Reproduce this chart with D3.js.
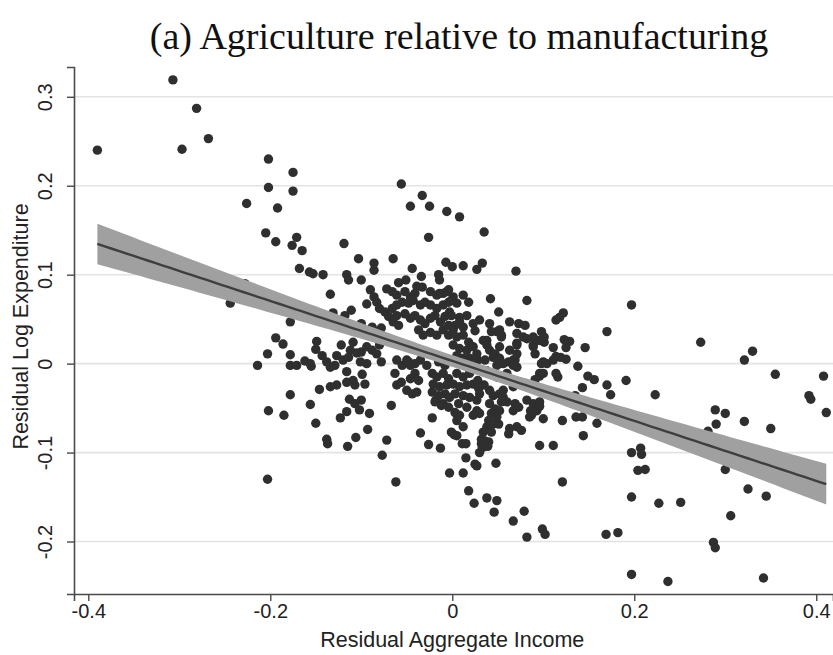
<!DOCTYPE html>
<html>
<head>
<meta charset="utf-8">
<script src="https://cdn.jsdelivr.net/npm/d3@7/dist/d3.min.js"></script>
<style>
  html, body { margin: 0; padding: 0; background: #fff; }
  svg { display: block; }
</style>
</head>
<body>
<svg id="chart" width="833" height="655"></svg>
<script>
// Chart text
const titleText = "(a) Agriculture relative to manufacturing";
const xLabel = "Residual Aggregate Income";
const yLabel = "Residual Log Expenditure";

// Axis ticks
const xTicks = [-0.4, -0.2, 0, 0.2, 0.4];
const xTickLabels = ["-0.4", "-0.2", "0", "0.2", "0.4"];
const yTicks = [-0.2, -0.1, 0, 0.1, 0.2, 0.3];
const yTickLabels = ["-0.2", "-0.1", "0", "0.1", "0.2", "0.3"];

// Residual aggregate income (x) and residual log expenditure (y), one pair per observation
const sparseLeft = [
  [-0.390,0.240],[-0.307,0.319],[-0.281,0.287],[-0.297,0.241],[-0.268,0.253],[-0.202,0.230],[-0.175,0.215],
  [-0.202,0.198],[-0.175,0.194],[-0.226,0.180],[-0.192,0.175],[-0.205,0.147],[-0.194,0.137],[-0.171,0.142],
  [-0.176,0.133],[-0.165,0.127],[-0.168,0.107],[-0.157,0.103],[-0.153,0.101],
  [-0.228,0.090],[-0.244,0.068],[-0.178,0.047],[-0.194,0.029],[-0.186,0.022],[-0.203,0.011],[-0.214,-0.002],
  [-0.178,0.010],[-0.178,-0.002],[-0.171,-0.002],[-0.162,0.003],[-0.156,0.000],[-0.155,-0.003],[-0.149,0.025],
  [-0.150,0.016],[-0.178,-0.035],[-0.202,-0.053],[-0.185,-0.058],[-0.156,-0.046],[-0.150,-0.067],[-0.146,-0.029],
  [-0.203,-0.130],[-0.143,0.009],[-0.138,0.002],[-0.134,-0.004],[-0.129,-0.002],[-0.134,-0.026]
];
const sparseRight = [
  [0.197,0.066],[0.122,0.057],[0.118,0.052],[0.114,0.049],[0.098,0.036],[0.101,0.030],[0.101,0.024],[0.123,0.027],
  [0.129,0.025],[0.125,0.018],[0.111,0.018],[0.146,0.018],[0.170,0.036],[0.114,0.008],[0.119,0.007],[0.125,0.005],
  [0.100,0.002],[0.138,-0.003],[0.096,-0.014],[0.116,-0.015],[0.149,-0.014],[0.156,-0.018],[0.191,-0.019],
  [0.143,-0.027],[0.170,-0.024],[0.174,-0.035],[0.223,-0.035],[0.135,-0.036],[0.096,-0.048],[0.100,-0.062],
  [0.121,-0.064],[0.136,-0.060],[0.143,-0.060],[0.159,-0.067],[0.144,-0.081],[0.096,-0.092],[0.111,-0.092],
  [0.273,0.024],[0.321,0.004],[0.330,0.014],[0.355,-0.012],[0.408,-0.014],[0.392,-0.036],[0.394,-0.040],
  [0.411,-0.055],[0.289,-0.052],[0.300,-0.056],[0.290,-0.068],[0.281,-0.076],[0.321,-0.065],[0.350,-0.073],
  [0.197,-0.100],[0.207,-0.095],[0.208,-0.102],[0.204,-0.120],[0.212,-0.119],[0.300,-0.119],[0.121,-0.133],
  [0.197,-0.150],[0.325,-0.141],[0.345,-0.149],[0.227,-0.157],[0.251,-0.156],[0.306,-0.171],[0.099,-0.186],
  [0.102,-0.192],[0.169,-0.192],[0.182,-0.190],[0.287,-0.201],[0.289,-0.207],[0.197,-0.237],[0.237,-0.245],
  [0.342,-0.241]
];
const lowerMiddle = [
  [-0.138,-0.085],[-0.137,-0.090],[-0.115,-0.093],[-0.106,-0.083],[-0.093,-0.074],[-0.123,-0.061],[-0.116,-0.054],
  [-0.113,-0.040],[-0.102,-0.052],[-0.100,-0.041],[-0.091,-0.056],[-0.072,-0.086],[-0.077,-0.103],[-0.062,-0.133],
  [-0.067,-0.047],[-0.035,-0.078],[-0.026,-0.091],[-0.013,-0.095],[-0.022,-0.061],[-0.003,-0.123],[0.002,-0.080],
  [0.012,-0.123],[0.011,-0.090],[0.015,-0.090],[0.015,-0.106],[0.025,-0.113],[0.027,-0.115],[0.048,-0.112],
  [0.018,-0.143],[0.024,-0.157],[0.038,-0.151],[0.049,-0.154],[0.046,-0.167],[0.067,-0.177],[0.079,-0.166],
  [0.082,-0.195],[0.032,-0.090],[0.033,-0.094],[0.036,-0.087],[0.039,-0.093],
  [0.093,-0.053],[0.085,-0.060],[0.089,-0.045],[0.096,-0.011],[0.089,0.019],[0.071,0.023],[0.067,0.004],
  [0.071,-0.004],[0.060,-0.011],[0.067,-0.026],[0.074,-0.023],[0.045,0.007],[0.052,0.000],[0.038,-0.008],
  [0.049,-0.015],[0.056,-0.030],[0.104,-0.034],[0.096,-0.043]
];
const upperMiddle = [
  [-0.056,0.202],[-0.033,0.189],[-0.046,0.177],[-0.025,0.177],[-0.006,0.171],[0.008,0.165],[-0.026,0.142],
  [0.035,0.148],[-0.119,0.135],[-0.103,0.118],[-0.065,0.118],[-0.086,0.113],[-0.086,0.105],[-0.142,0.100],
  [-0.044,0.107],[-0.007,0.114],[0.000,0.109],[0.012,0.110],[0.027,0.106],[0.033,0.113],[0.070,0.104],
  [-0.100,0.094],[-0.116,0.100],[-0.114,0.094],[-0.134,0.078],[0.042,0.073],[0.082,0.071],[0.051,0.058],
  [0.012,0.077],[0.018,0.069],[-0.034,0.098],[-0.015,0.100],[-0.014,0.094],[-0.051,0.094],[-0.059,0.091],
  [-0.039,0.087],[-0.094,0.067],[-0.111,0.060],[-0.131,0.057],[-0.118,0.054],[0.063,0.047],[0.073,0.045],
  [0.080,0.043],[0.096,0.026],[0.082,0.028],[0.089,0.021],[0.071,0.021],[0.030,0.049],[0.025,0.037],
  [0.041,0.045],[0.049,0.036],[0.054,0.032],[0.038,0.026],[0.098,0.000],[-0.122,0.021],[-0.109,0.024],
  [-0.105,0.012],[-0.078,0.002],
  [0.052,0.019],[0.063,0.015],[0.069,0.004],[-0.061,0.004],[-0.050,0.004],[-0.046,-0.002],[-0.014,0.079],
  [-0.006,0.081],[0.001,0.075],[0.005,0.068],[-0.003,0.058],[0.008,0.052],[0.016,0.054],[0.023,0.045],
  [0.071,0.034],[0.078,0.030],[0.089,0.030],[0.071,0.011],[0.104,0.000],[0.111,0.004],[0.114,-0.011],[0.100,-0.011]
];
const coreUpper = [
  [-0.090,0.083],[-0.086,0.075],[-0.072,0.084],[-0.066,0.081],[-0.061,0.077],[-0.052,0.081],[-0.046,0.075],
  [-0.041,0.079],[-0.033,0.086],[-0.024,0.081],[-0.017,0.077],[-0.010,0.079],[-0.004,0.083],[-0.083,0.069],
  [-0.080,0.062],[-0.074,0.058],[-0.066,0.062],[-0.061,0.066],[-0.055,0.069],[-0.048,0.068],[-0.043,0.071],
  [-0.035,0.066],[-0.030,0.069],[-0.024,0.066],[-0.017,0.062],[-0.010,0.066],[-0.004,0.069],[-0.070,0.053],
  [-0.065,0.047],[-0.059,0.043],[-0.061,0.054],[-0.052,0.056],[-0.046,0.051],[-0.041,0.054],[-0.035,0.049],
  [-0.030,0.045],[-0.024,0.051],[-0.019,0.054],[-0.013,0.047],[-0.008,0.053],[-0.004,0.043],[-0.088,0.041],
  [-0.083,0.036],[-0.078,0.040],[-0.100,0.045],[-0.037,0.038],[-0.032,0.032],[-0.024,0.035],[-0.017,0.032],
  [-0.010,0.038],[-0.004,0.032],[-0.112,0.015],[-0.100,0.013],[-0.094,0.019],[-0.088,0.015],[-0.083,0.011],
  [-0.080,0.021],[-0.127,0.009],[-0.120,0.004],[-0.114,0.007],[-0.101,0.002],[-0.094,0.000],[-0.055,-0.002],
  [-0.048,0.002],[-0.041,0.000],[-0.035,0.004],[-0.028,-0.002],[-0.015,0.002],[-0.008,-0.002],
  [-0.001,0.071],[-0.001,0.054],[0.008,0.047],[0.012,0.041],[0.003,0.043],[0.043,0.036],[0.052,0.038],
  [0.054,0.030],[0.001,0.038],[0.005,0.030],[0.012,0.032],[0.018,0.024],[0.001,0.021],[0.008,0.017],
  [0.016,0.015],[0.023,0.019],[0.027,0.011],[0.019,0.006],[0.028,0.004],[0.012,0.006],[0.005,0.009],
  [0.034,0.026],[0.038,0.021],[0.041,0.015],[0.047,0.011],[0.052,0.006],[0.056,0.000],[0.062,0.002],
  [0.067,-0.002],[0.049,-0.002],[0.036,0.004],[0.091,0.011]
];
const coreLower = [
  [-0.116,-0.009],[-0.099,-0.012],[-0.109,-0.019],[-0.116,-0.021],[-0.127,-0.024],[-0.107,-0.024],[-0.096,-0.023],
  [-0.107,-0.045],[-0.018,-0.041],[-0.012,-0.047],[-0.063,-0.011],[-0.061,-0.024],[-0.056,-0.021],[-0.050,-0.030],
  [-0.044,-0.034],[-0.039,-0.032],[-0.046,-0.017],[-0.041,-0.011],[-0.037,-0.019],[-0.022,-0.011],[-0.017,-0.015],
  [-0.010,-0.011],[-0.004,-0.017],[-0.021,-0.023],[-0.014,-0.026],[-0.006,-0.024],[-0.022,-0.032],[-0.015,-0.036],
  [-0.008,-0.034],[-0.003,-0.038],[-0.019,-0.043],[-0.010,-0.045],[-0.004,-0.049],
  [0.091,-0.018],[0.005,-0.011],[0.012,-0.015],[0.019,-0.011],[0.001,-0.023],[0.008,-0.026],[0.016,-0.024],
  [0.023,-0.023],[0.029,-0.028],[0.003,-0.034],[0.012,-0.036],[0.019,-0.038],[0.027,-0.041],[0.007,-0.045],
  [0.016,-0.049],[0.003,-0.055],[0.008,-0.058],[0.005,-0.064],[0.027,-0.053],[0.030,-0.056],[0.023,-0.058],
  [-0.001,-0.077],[0.005,-0.081],[0.012,-0.071],[0.041,-0.030],[0.045,-0.036],[0.052,-0.034],[0.056,-0.038],
  [0.060,-0.043],[0.069,-0.045],[0.067,-0.053],[0.073,-0.049],[0.086,-0.053],[0.087,-0.058],[0.095,-0.047],
  [0.041,-0.045],[0.047,-0.051],[0.043,-0.056],[0.049,-0.060],[0.040,-0.064],[0.045,-0.068],[0.038,-0.071],
  [0.034,-0.077],[0.043,-0.077],[0.032,-0.085],[0.040,-0.088],[0.034,-0.094],[0.030,-0.100],[0.054,-0.043],
  [0.052,-0.053],[0.051,-0.068],[0.063,-0.073],[0.071,-0.071],[0.076,-0.075],[0.062,-0.079],[0.082,-0.041],
  [0.025,-0.002],[0.032,-0.008],[0.028,-0.019],[0.035,-0.024],[0.030,-0.034]
];

const observations = [].concat(sparseLeft, sparseRight, lowerMiddle, upperMiddle, coreUpper, coreLower)
  .map(([x, y]) => ({ x, y }));

// Layout
const plot = { left: 74, right: 833, top: 67, bottom: 594 };

const svg = d3.select("#chart");

const x = d3.scaleLinear().domain([-0.4157, 0.4184]).range([plot.left, plot.right]);
const y = d3.scaleLinear().domain([-0.259, 0.3335]).range([plot.bottom, plot.top]);

// Horizontal grid lines at the y ticks
svg.append("g")
  .selectAll("line")
  .data(yTicks)
  .join("line")
  .attr("x1", plot.left).attr("x2", plot.right)
  .attr("y1", d => y(d)).attr("y2", d => y(d))
  .attr("stroke", "#e3e3e3")
  .attr("stroke-width", 1.6);

// Scatter of observations
svg.append("g")
  .selectAll("circle")
  .data(observations)
  .join("circle")
  .attr("cx", d => x(d.x))
  .attr("cy", d => y(d.y))
  .attr("r", 4.7)
  .attr("fill", "#2f2f2f");

// Least-squares fit with 95% confidence band for the mean
const n = observations.length;
const xbar = d3.mean(observations, d => d.x);
const ybar = d3.mean(observations, d => d.y);
const Sxx = d3.sum(observations, d => (d.x - xbar) ** 2);
const Sxy = d3.sum(observations, d => (d.x - xbar) * (d.y - ybar));
const slope = Sxy / Sxx;
const intercept = ybar - slope * xbar;
const sse = d3.sum(observations, d => (d.y - intercept - slope * d.x) ** 2);
const sigma = Math.sqrt(sse / (n - 2));
const tCrit = 1.965;
const [xmin, xmax] = d3.extent(observations, d => d.x);
const fitPts = d3.range(0, 101).map(i => {
  const xv = xmin + (xmax - xmin) * i / 100;
  const yhat = intercept + slope * xv;
  const se = sigma * Math.sqrt(1 / n + (xv - xbar) ** 2 / Sxx);
  return { x: xv, y: yhat, lo: yhat - tCrit * se, hi: yhat + tCrit * se };
});

svg.append("path")
  .datum(fitPts)
  .attr("d", d3.area().x(d => x(d.x)).y0(d => y(d.lo)).y1(d => y(d.hi)))
  .attr("fill", "#a0a0a0");

svg.append("path")
  .datum(fitPts)
  .attr("d", d3.line().x(d => x(d.x)).y(d => y(d.y)))
  .attr("fill", "none")
  .attr("stroke", "#3e3e3e")
  .attr("stroke-width", 2.4);

// Axes
const axisColor = "#4a4a4a";
const tickFont = "Liberation Sans, Arial, sans-serif";

const xAxis = svg.append("g").attr("transform", `translate(0,${plot.bottom})`)
  .call(d3.axisBottom(x).tickValues(xTicks).tickFormat((d, i) => xTickLabels[i]).tickSizeOuter(0).tickSize(7).tickPadding(3));
xAxis.select(".domain").attr("stroke", axisColor).attr("stroke-width", 1.6);
xAxis.selectAll(".tick line").attr("stroke", axisColor).attr("stroke-width", 1.4);
xAxis.selectAll(".tick text").attr("font-family", tickFont).attr("font-size", 20).attr("fill", "#222");

const yAxis = svg.append("g").attr("transform", `translate(${plot.left},0)`)
  .call(d3.axisLeft(y).tickValues(yTicks).tickFormat((d, i) => yTickLabels[i]).tickSizeOuter(0).tickSize(7));
yAxis.select(".domain").attr("stroke", axisColor).attr("stroke-width", 1.6);
yAxis.selectAll(".tick line").attr("stroke", axisColor).attr("stroke-width", 1.4);
yAxis.selectAll(".tick text")
  .attr("font-family", tickFont).attr("font-size", 20).attr("fill", "#222")
  .attr("x", null).attr("dy", null)
  .attr("text-anchor", "middle")
  .attr("transform", "translate(-22,0) rotate(-90)");

// Axis titles
svg.append("text")
  .attr("x", x(0)).attr("y", 647)
  .attr("text-anchor", "middle")
  .attr("font-family", tickFont).attr("font-size", 21.5).attr("fill", "#222")
  .text(xLabel);

svg.append("text")
  .attr("transform", `translate(28,${(plot.top + plot.bottom) / 2 - 4}) rotate(-90)`)
  .attr("text-anchor", "middle")
  .attr("font-family", tickFont).attr("font-size", 21.5).attr("fill", "#222")
  .text(yLabel);

// Title
svg.append("text")
  .attr("x", 459).attr("y", 49)
  .attr("text-anchor", "middle")
  .attr("font-family", "Liberation Serif, Times New Roman, serif")
  .attr("font-size", 38).attr("fill", "#111")
  .text(titleText);
</script>
</body>
</html>
